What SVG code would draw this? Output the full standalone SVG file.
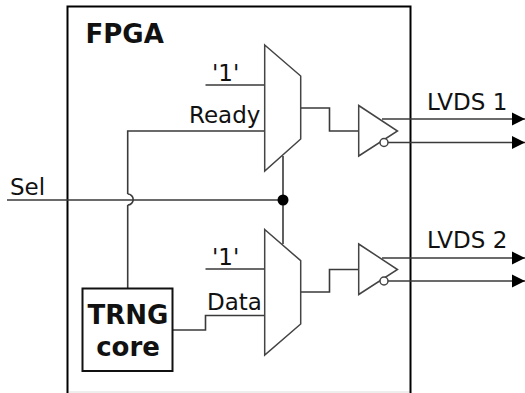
<svg xmlns="http://www.w3.org/2000/svg" width="525" height="393" viewBox="0 0 525 393">
<style>
text{font-family:"DejaVu Sans",sans-serif;fill:#111}
.b{font-weight:bold}
.t{font-size:23px}
.w{fill:none;stroke:#3a3a3a;stroke-width:1.6}
.s{fill:#fff;stroke:#444;stroke-width:1.5;stroke-linejoin:miter}
.h{fill:none;stroke:#000;stroke-width:2}
</style>
<defs>
<marker id="a" markerUnits="userSpaceOnUse" markerWidth="14" markerHeight="14" refX="13" refY="7" orient="auto"><path d="M0,0.5L13,7L0,13.5Z" fill="#000"/></marker>
</defs>
<rect width="525" height="393" fill="#fff"/>
<g id="fpga"><path d="M68.500,392H409.500" stroke="#e8e8e8" stroke-width="1.500" fill="none"/><rect class="h" x="67.500" y="6.500" width="343" height="400"/><text class="b" x="85.500" y="42.500" font-size="26">FPGA</text></g>
<g id="connectors">
<path class="w" d="M205.500,85H265M127.700,194V131H265M127.700,205V288"/>
<path class="w" d="M127.700,194a5.500,5.500 0 0 1 0,11"/>
<path class="w" d="M7,200H283M283,156V244"/>
<path class="w" d="M205.500,269H265M172,330H205.500V315.500H265"/>
<path class="w" d="M301,108H329.500V131H359M301,292H329.500V269.500H359"/>
<path class="w" d="M382,119H525" marker-end="url(#a)"/>
<path class="w" d="M388,142.500H525" marker-end="url(#a)"/>
<path class="w" d="M382,258H525" marker-end="url(#a)"/>
<path class="w" d="M388,281H525" marker-end="url(#a)"/>
<circle cx="283" cy="200" r="5.500" fill="#000"/>
</g>
<g id="sel"><text class="t" x="10" y="195">Sel</text></g>
<g id="mux1"><path class="s" d="M264.700,45L300.700,76V139L264.700,171Z"/><text class="t" x="212" y="81">'1'</text><text class="t" x="189" y="123">Ready</text></g>
<g id="mux2"><path class="s" d="M264.700,229.500L300.700,260.700V324L264.700,355Z"/><text class="t" x="212" y="265">'1'</text><text class="t" x="207" y="310">Data</text></g>
<g id="trng"><rect x="82.500" y="288.500" width="90" height="82.500" fill="#fff" stroke="#111" stroke-width="2"/><text class="b" x="128" y="323.500" font-size="26" text-anchor="middle">TRNG</text><text class="b" x="128" y="356" font-size="26" text-anchor="middle">core</text></g>
<g id="buf1"><path class="s" d="M358.700,105.500L397.500,131L358.700,156Z"/><circle cx="384" cy="142.500" r="4" fill="#fff" stroke="#444" stroke-width="1.500"/></g>
<g id="buf2"><path class="s" d="M358.700,244L397.500,269.500L358.700,294.500Z"/><circle cx="384" cy="281" r="4" fill="#fff" stroke="#444" stroke-width="1.500"/></g>
<g id="lvds1"><text class="t" x="427" y="110">LVDS 1</text></g>
<g id="lvds2"><text class="t" x="427" y="248">LVDS 2</text></g>
</svg>
